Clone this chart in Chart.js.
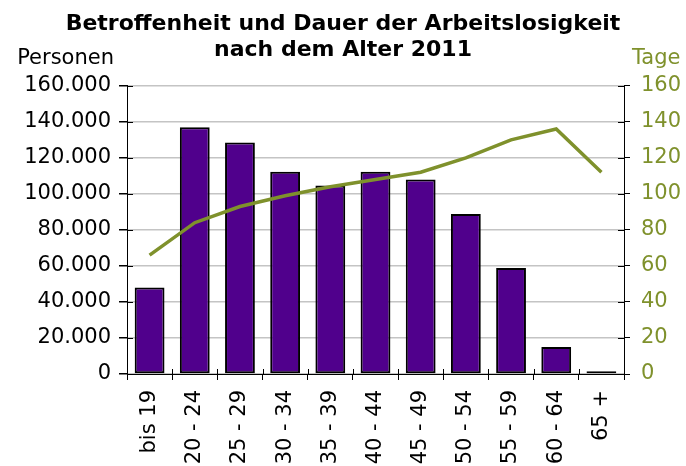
<!DOCTYPE html>
<html>
<head>
<meta charset="utf-8">
<script src="https://cdn.jsdelivr.net/npm/chart.js@4/dist/chart.umd.min.js"></script>
<style>
  body { margin: 0; background: #fff; }
  #wrap { width: 686px; height: 466px; }
</style>
</head>
<body>
<div id="wrap"><canvas id="chart" width="686" height="466"></canvas></div>
<script>
// data
var categories = ['bis 19', '20 - 24', '25 - 29', '30 - 34', '35 - 39', '40 - 44', '45 - 49', '50 - 54', '55 - 59', '60 - 64', '65 +'];
var personen = [48000, 137000, 128500, 112300, 104700, 112300, 108000, 88800, 58800, 15000, 1500];
var tage = [66, 84, 93, 99, 104, 108, 112, 120, 130, 136, 112];

var olive = '#7f912c';
var fontFam = '"DejaVu Sans", Verdana, sans-serif';

function fmt(v) {
	return String(v).replace(/\B(?=(\d{3})+(?!\d))/g, '.');
}

// axis captions above the two y axes + inner half of the tick marks
var extras = {
	id: 'extras',
	afterDraw: function(chart) {
		var c = chart.ctx;
		var a = chart.chartArea;
		c.save();
		c.strokeStyle = '#000';
		c.lineWidth = 1;
		c.beginPath();
		chart.scales.y.ticks.forEach(function(t, i) {
			var py = Math.round(chart.scales.y.getPixelForTick(i)) + 0.5;
			c.moveTo(a.left, py); c.lineTo(a.left + 6, py);
			c.moveTo(a.right - 6, py); c.lineTo(a.right, py);
		});
		var xs = chart.scales.x;
		for (var i = 0; i <= categories.length; i++) {
			var px = Math.round(xs.left + (xs.right - xs.left) * i / categories.length) + 0.5;
			c.moveTo(px, a.bottom - 5); c.lineTo(px, a.bottom);
		}
		c.stroke();

		c.font = '21px ' + fontFam;
		c.textBaseline = 'middle';
		c.fillStyle = '#000';
		c.textAlign = 'right';
		c.fillText('Personen', 114, 59);
		c.fillStyle = olive;
		c.textAlign = 'left';
		c.fillText('Tage', 632, 59);
		c.restore();
	}
};

var ctx = document.getElementById('chart');
var myChart = new Chart(ctx, {
	data: {
		labels: categories,
		datasets: [{
			type: 'line',
			label: 'Tage',
			data: tage,
			yAxisID: 'y2',
			borderColor: olive,
			borderWidth: 3.5,
			pointRadius: 0,
			tension: 0,
			order: 0
		}, {
			type: 'bar',
			label: 'Personen',
			data: personen,
			yAxisID: 'y',
			backgroundColor: '#50008c',
			borderColor: '#000000',
			borderWidth: 2,
			borderSkipped: false,
			categoryPercentage: 1,
			barPercentage: 0.66,
			order: 1
		}]
	},
	plugins: [extras],
	options: {
		responsive: false,
		animation: false,
		layout: { padding: { left: 0, right: 0, top: 0, bottom: 0 } },
		plugins: {
			legend: { display: false },
			tooltip: { enabled: false },
			title: {
				display: true,
				text: ['Betroffenheit und Dauer der Arbeitslosigkeit', 'nach dem Alter 2011'],
				color: '#000',
				font: { family: fontFam, size: 22, weight: 'bold', lineHeight: 1.2 },
				padding: { top: 11, bottom: 22 }
			}
		},
		scales: {
			x: {
				offset: true,
				grid: { display: true, drawOnChartArea: false, offset: true, color: '#000', tickLength: 6 },
				border: { color: '#000', width: 1 },
				ticks: {
					color: '#000',
					minRotation: 90,
					maxRotation: 90,
					autoSkip: false,
					padding: 10,
					font: { family: fontFam, size: 21 }
				},
				afterFit: function(scale) { scale.height = 92; }
			},
			y: {
				position: 'left',
				min: 0,
				max: 160000,
				ticks: {
					stepSize: 20000,
					color: '#000',
					padding: 8,
					font: { family: fontFam, size: 21 },
					callback: function(v) { return fmt(v); }
				},
				grid: { color: '#c4c4c4', lineWidth: 1.5, tickColor: '#000', tickLength: 8 },
				border: { color: '#000', width: 1 },
				afterFit: function(scale) { scale.width = 127; }
			},
			y2: {
				position: 'right',
				min: 0,
				max: 160,
				ticks: {
					stepSize: 20,
					color: olive,
					padding: 11,
					font: { family: fontFam, size: 21 }
				},
				grid: { drawOnChartArea: false, color: '#000', tickLength: 6 },
				border: { color: '#000', width: 1 },
				afterFit: function(scale) { scale.width = 62; }
			}
		}
	}
});
</script>
</body>
</html>
